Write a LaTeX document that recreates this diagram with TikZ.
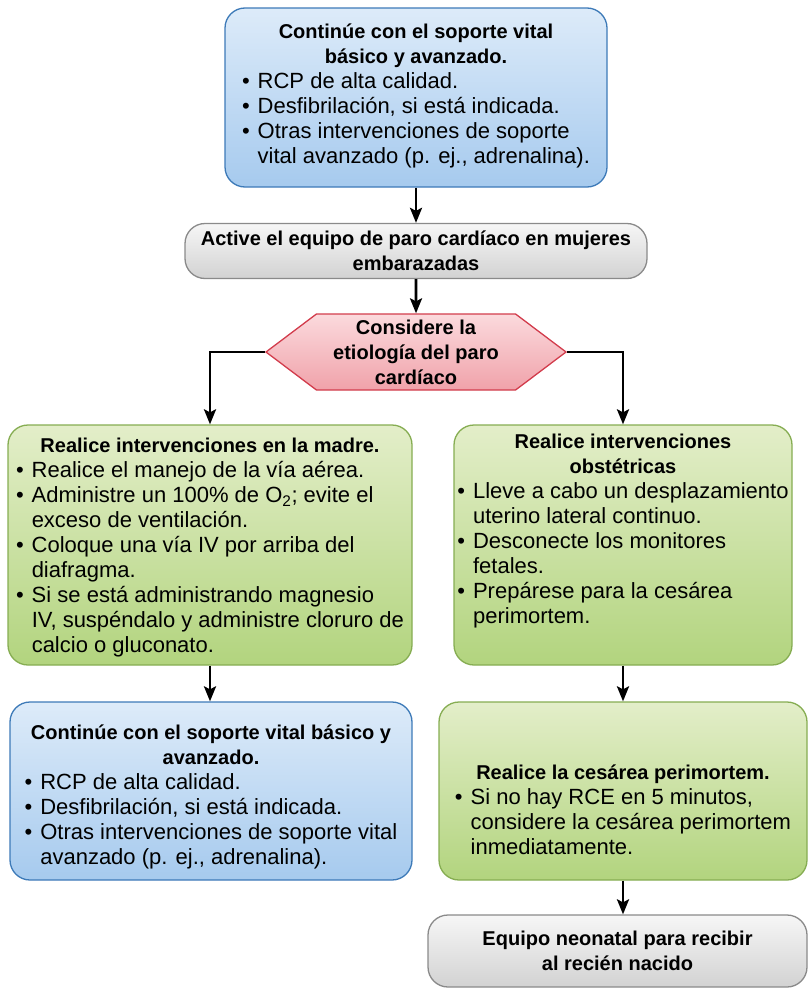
\documentclass[tikz,border=0pt]{standalone}
\usepackage{fontspec}
\setmainfont{Liberation Sans}
\usetikzlibrary{arrows.meta,shapes.symbols}
\definecolor{blueline}{HTML}{3D7AB8}
\definecolor{bluetop}{HTML}{DDEBF9}
\definecolor{bluebot}{HTML}{A6CAEE}
\definecolor{greenline}{HTML}{86AD52}
\definecolor{greentop}{HTML}{E3EEC9}
\definecolor{greenbot}{HTML}{B2D47E}
\definecolor{grayline}{HTML}{8A8A8A}
\definecolor{graytop}{HTML}{F6F6F6}
\definecolor{graybot}{HTML}{D2D2D2}
\definecolor{redline}{HTML}{D23C4C}
\definecolor{redtop}{HTML}{FBDADD}
\definecolor{redbot}{HTML}{F0A2AA}
\long\def\boxtext(#1,#2,#3)#4{\begin{minipage}[c][#2][c]{#1}\centering\vspace*{#3}#4\end{minipage}}
\def\ttl{\fontsize{20}{25}\selectfont\bfseries}

\begin{document}
\begin{tikzpicture}[x=1pt, y=-1pt, font=\fontsize{22}{25}\selectfont]
	\tikzset{
		box/.style={rounded corners=20pt, line width=1.3pt, inner sep=0pt},
		bluebox/.style={box, draw=blueline, top color=bluetop, bottom color=bluebot},
		greenbox/.style={box, draw=greenline, top color=greentop, bottom color=greenbot},
		graybox/.style={box, draw=grayline, top color=graytop, bottom color=graybot, align=center, font=\ttl},
		hexa/.style={signal, signal to=west and east, signal pointer angle=74, draw=redline, line width=1.3pt, top color=redtop, bottom color=redbot, inner sep=0pt, minimum width=300pt, minimum height=76pt, align=center, font=\ttl},
		arr/.style={line width=2.7pt, -{Stealth[length=15pt, width=12pt, inset=3pt]}}
	}
	\useasboundingbox (0,0) rectangle (808,988);
	
	%%% top part
	\node[bluebox] (top) at (416,97.5) {\boxtext(382pt,179pt,0pt){%
			{\ttl Continúe con el soporte vital\\ básico y avanzado.\par}
			\begin{tabular}[t]{@{}l@{\hspace{8pt}}l@{}}
				\textbullet & RCP de alta calidad.\\
				\textbullet & Desfibrilación, si está indicada.\\
				\textbullet & Otras intervenciones de soporte\\
				& vital avanzado (p. ej., adrenalina).
			\end{tabular}}};
	\node[graybox, minimum width=462pt, minimum height=55pt] (act) at (416,251) {Active el equipo de paro cardíaco en mujeres\\ embarazadas};
	\node[hexa] (etio) at (416,352) {Considere la\\ etiología del paro\\ cardíaco};
	
	%%% two branches
	\node[greenbox] (mom) at (210,545) {\boxtext(404pt,240pt,8pt){%
			{\ttl Realice intervenciones en la madre.\par}
			\begin{tabular}[t]{@{}l@{\hspace{8pt}}l@{}}
				\textbullet & Realice el manejo de la vía aérea.\\
				\textbullet & Administre un 100\% de O\textsubscript{2}; evite el\\
				& exceso de ventilación.\\
				\textbullet & Coloque una vía IV por arriba del\\
				& diafragma.\\
				\textbullet & Si se está administrando magnesio\\
				& IV, suspéndalo y administre cloruro de\\
				& calcio o gluconato.
			\end{tabular}}};
	\node[greenbox] (obs) at (623,545) {\boxtext(338pt,240pt,-25pt){%
			{\ttl Realice intervenciones\\ obstétricas\par}
			\begin{tabular}[t]{@{}l@{\hspace{8pt}}l@{}}
				\textbullet & Lleve a cabo un desplazamiento\\
				& uterino lateral continuo.\\
				\textbullet & Desconecte los monitores\\
				& fetales.\\
				\textbullet & Prepárese para la cesárea\\
				& perimortem.
			\end{tabular}}};
	
	%%% bottom part
	\node[bluebox] (cont) at (211,791) {\boxtext(402pt,178pt,14pt){%
			{\ttl Continúe con el soporte vital básico y\\ avanzado.\par}
			\begin{tabular}[t]{@{}l@{\hspace{8pt}}l@{}}
				\textbullet & RCP de alta calidad.\\
				\textbullet & Desfibrilación, si está indicada.\\
				\textbullet & Otras intervenciones de soporte vital\\
				& avanzado (p. ej., adrenalina).
			\end{tabular}}};
	\node[greenbox] (ces) at (623,791) {\boxtext(368pt,178pt,45pt){%
			{\ttl Realice la cesárea perimortem.\par}
			\begin{tabular}[t]{@{}l@{\hspace{8pt}}l@{}}
				\textbullet & Si no hay RCE en 5 minutos,\\
				& considere la cesárea perimortem\\
				& inmediatamente.
			\end{tabular}}};
	\node[graybox, minimum width=379pt, minimum height=72pt] (neo) at (617.5,951) {Equipo neonatal para recibir\\ al recién nacido};
	
	%%% arrows
	\draw[arr] (top) -- (act);
	\draw[arr] (act) -- (etio);
	\draw[arr] (etio.west) -| (mom.north);
	\draw[arr] (etio.east) -| (obs.north);
	\draw[arr] (mom.south) -- (mom.south |- cont.north);
	\draw[arr] (obs.south) -- (obs.south |- ces.north);
	\draw[arr] (ces.south) -- (ces.south |- neo.north);
\end{tikzpicture}
\end{document}
